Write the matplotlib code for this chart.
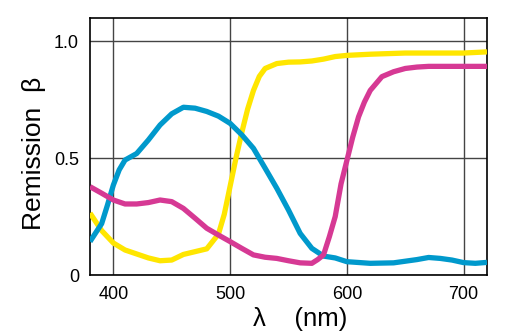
import matplotlib
matplotlib.use("Agg")
import matplotlib.pyplot as plt
import numpy as np

plt.rcParams['font.family'] = ['Liberation Sans', 'DejaVu Sans']

# Yellow curve
yellow_x = [380, 390, 400, 410, 420, 430, 440, 450, 460, 470, 480, 490, 495, 500, 505, 510, 515, 520, 525, 530, 540, 550, 560, 570, 580, 590, 600, 620, 650, 700, 720]
yellow_y = [0.265, 0.19, 0.137, 0.107, 0.09, 0.073, 0.061, 0.064, 0.088, 0.10, 0.112, 0.175, 0.26, 0.38, 0.50, 0.61, 0.71, 0.79, 0.85, 0.884, 0.905, 0.911, 0.912, 0.916, 0.924, 0.935, 0.94, 0.945, 0.95, 0.95, 0.955]

# Cyan curve
cyan_x = [380, 390, 395, 400, 405, 410, 420, 430, 440, 450, 460, 470, 480, 490, 500, 510, 520, 530, 540, 550, 560, 570, 580, 590, 600, 620, 640, 660, 670, 680, 690, 700, 710, 720]
cyan_y = [0.143, 0.22, 0.30, 0.385, 0.45, 0.492, 0.52, 0.578, 0.642, 0.69, 0.718, 0.714, 0.70, 0.68, 0.649, 0.60, 0.542, 0.457, 0.371, 0.278, 0.178, 0.114, 0.081, 0.073, 0.057, 0.05, 0.052, 0.066, 0.075, 0.071, 0.064, 0.053, 0.05, 0.054]

# Magenta curve
magenta_x = [380, 390, 400, 410, 420, 430, 440, 450, 460, 470, 480, 490, 500, 510, 520, 530, 540, 550, 560, 570, 575, 580, 585, 590, 595, 600, 605, 610, 615, 620, 630, 640, 650, 660, 670, 700, 720]
magenta_y = [0.378, 0.35, 0.321, 0.304, 0.304, 0.31, 0.321, 0.314, 0.285, 0.243, 0.20, 0.171, 0.143, 0.114, 0.086, 0.076, 0.071, 0.061, 0.052, 0.05, 0.066, 0.086, 0.164, 0.25, 0.39, 0.49, 0.59, 0.677, 0.74, 0.79, 0.849, 0.87, 0.884, 0.89, 0.893, 0.893, 0.893]

x_ticks = [400, 500, 600, 700]
x_tick_labels = ["400", "500", "600", "700"]
y_ticks = [0, 0.5, 1.0]
y_tick_labels = ["0", "0.5", "1.0"]

W, H = 512, 334
fig = plt.figure(figsize=(W / 100, H / 100), dpi=100)
ax = fig.add_axes([90 / W, 1 - 275 / H, (487 - 90) / W, (275 - 18) / H])

lw = 3.8
ax.plot(yellow_x, yellow_y, color='#FFE600', lw=lw, solid_capstyle='butt', zorder=3)
ax.plot(cyan_x, cyan_y, color='#0099CC', lw=lw, solid_capstyle='butt', zorder=4)
ax.plot(magenta_x, magenta_y, color='#D63994', lw=lw, solid_capstyle='butt', zorder=5)

ax.set_xlim(380, 720)
ax.set_ylim(0, 1.1)
ax.set_xticks(x_ticks)
ax.set_xticklabels(x_tick_labels)
ax.set_yticks(y_ticks)
ax.set_yticklabels(y_tick_labels)
ax.tick_params(length=0, labelsize=13, pad=8)
ax.tick_params(axis='x', pad=8)
ax.grid(True, color='#444444', lw=1.0)
ax.set_axisbelow(True)
for s in ax.spines.values():
    s.set_color('black')
    s.set_linewidth(1.2)

fig.text(300 / W, 1 - 319 / H, "λ    (nm)", ha='center', va='center', fontsize=18.5)
fig.text(34 / W, 1 - 153 / H, "Remission  β", ha='center', va='center', fontsize=19, rotation=90)

fig.savefig("out.png", dpi=100)
